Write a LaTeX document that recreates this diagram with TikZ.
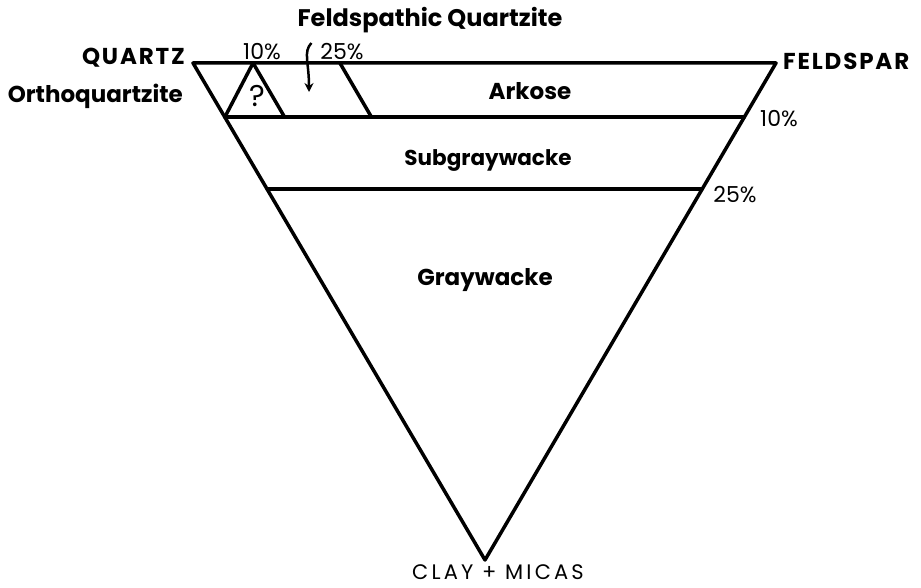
\documentclass[tikz,border=0pt]{standalone}
\usepackage{fontspec}
\setmainfont{Poppins}
\usetikzlibrary{calc,arrows.meta}

\begin{document}
\begin{tikzpicture}[x=1pt,y=-1pt,
    edge/.style={line width=3.5pt,line cap=round,line join=round},
    lbl/.style={font=\fontsize{23}{26}\selectfont\bfseries,inner sep=0pt},
    caps/.style={font=\fontsize{23}{26}\selectfont\bfseries\addfontfeature{LetterSpace=8},inner sep=0pt},
    pct/.style={font=\fontsize{22}{24}\selectfont,inner sep=0pt}]
    \useasboundingbox (0,0) rectangle (921,588);
    % Corners of the triangle
    \coordinate (Q) at (193,63);
    \coordinate (F) at (776,63);
    \coordinate (C) at (485,560);
    \draw[edge] (Q) -- (F) -- (C) -- cycle;
    % 10% and 25% lines
    \draw[edge] ($(Q)!0.109!(C)$) -- ($(F)!0.109!(C)$);
    \draw[edge] ($(Q)!0.254!(C)$) -- ($(F)!0.254!(C)$);
    % Orthoquartzite field and 25% feldspar line
    \coordinate (t10) at ($(Q)!0.103!(F)$);
    \coordinate (t25) at ($(Q)!0.252!(F)$);
    \draw[edge] ($(Q)!0.109!(C)$) -- (t10) -- ($(t10)+(31.5,54)$);
    \draw[edge] (t25) -- ($(t25)+(31.5,54)$);
    % Corner labels
    \node[caps,anchor=base east] (quartz) at (185,65) {QUARTZ};
    \node[caps,anchor=base west] (feldspar) at (783,70) {FELDSPAR};
    \node[inner sep=0pt,text depth=0pt,anchor=base,font=\fontsize{21}{24}\selectfont\addfontfeature{LetterSpace=15}] (clay) at (498,579) {CLAY + MICAS};
    % Field names
    \node[lbl,anchor=base,font=\fontsize{24}{26}\selectfont\bfseries] (fq) at (430,27) {Feldspathic Quartzite};
    \node[lbl,anchor=base east] (ortho) at (183,103) {Orthoquartzite};
    \node[lbl,anchor=base] (arkose) at (530,100) {Arkose};
    \node[lbl,anchor=base,font=\fontsize{21.5}{26}\selectfont\bfseries] (subgw) at (488,166) {Subgraywacke};
    \node[lbl,anchor=base] (gw) at (485,285) {Graywacke};
    \node[font=\fontsize{30}{32}\selectfont,inner sep=0pt] (qmark) at (257,96) {?};
    % Percentages
    \node[pct,anchor=base] (p10a) at (262,60) {10\%};
    \node[pct,anchor=base] (p25a) at (342,60) {25\%};
    \node[pct,anchor=base] (p10b) at (779,127) {10\%};
    \node[pct,anchor=base] (p25b) at (735,203) {25\%};
    % Arrow to the feldspathic quartzite field
    \coordinate (fqtip) at (309,92);
    \draw[line width=2.5pt,-{Stealth[length=9pt,width=9pt]}] ($(fq.base west)+(14,16)$) .. controls (303,52) and (309,62) .. (fqtip);
\end{tikzpicture}
\end{document}
